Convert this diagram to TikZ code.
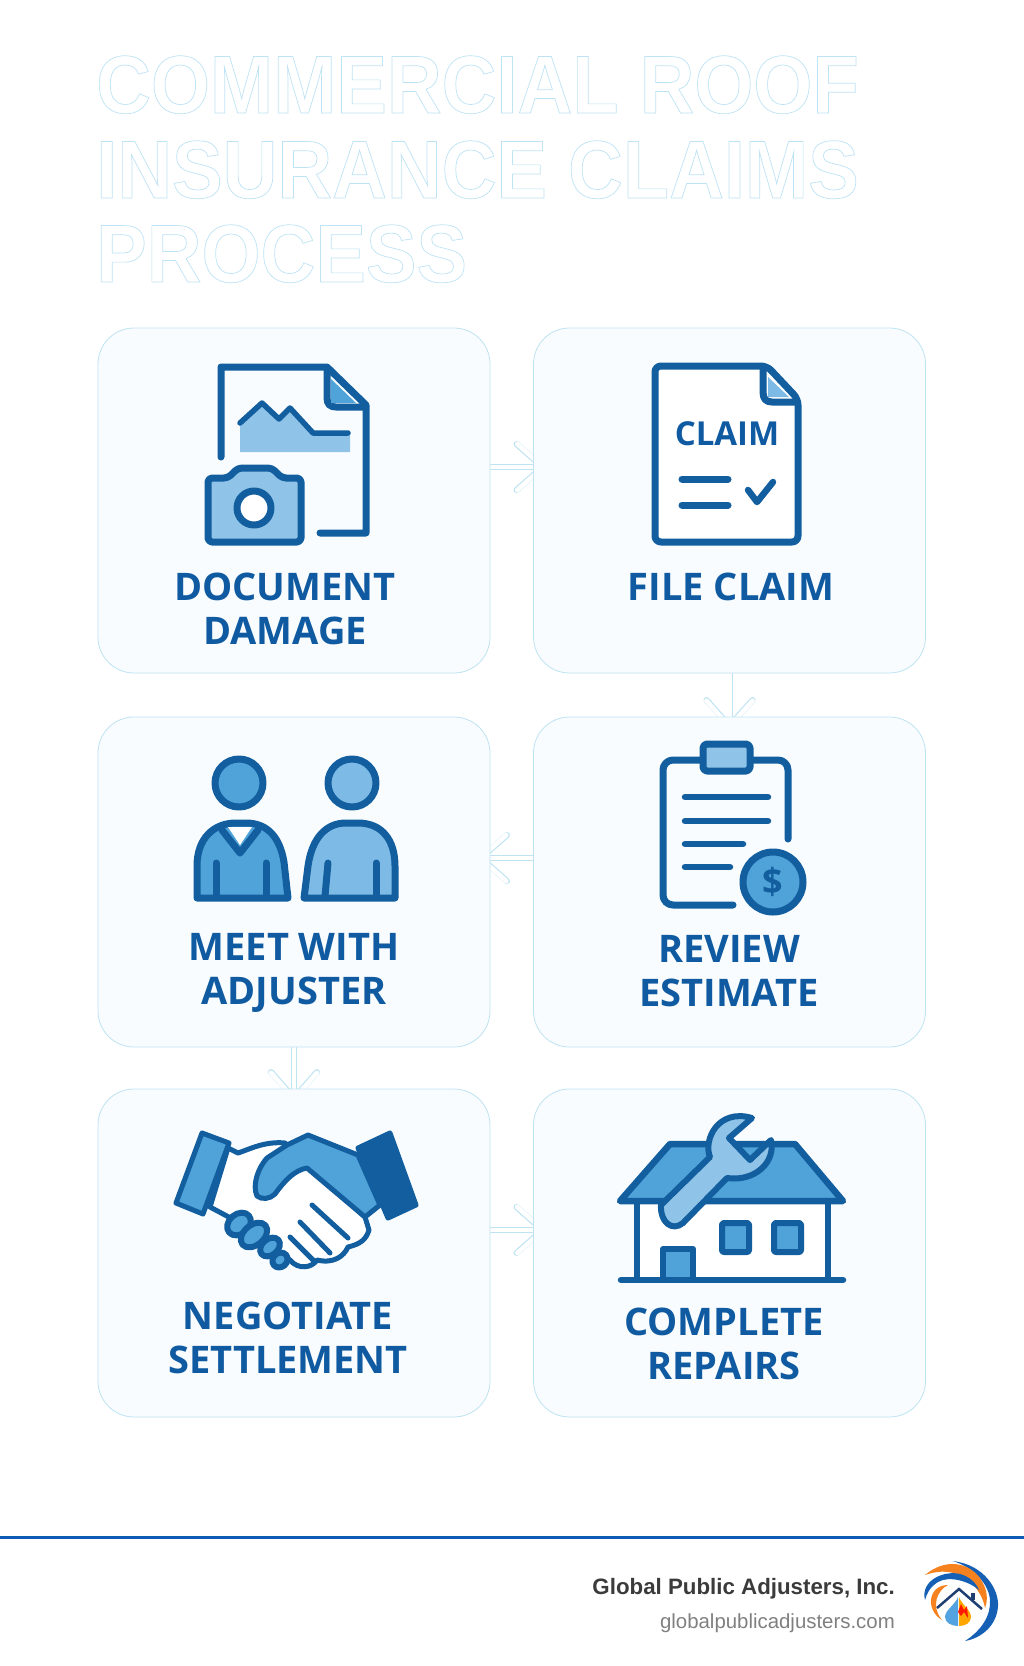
\documentclass[tikz,border=0pt]{standalone}
\usepackage{fontspec}
\usetikzlibrary{arrows.meta,backgrounds}
\setmainfont{Liberation Sans}
\newfontfamily\labelfont{Open Sans}
\newfontfamily\titlefont{Liberation Sans}[FakeStretch=0.925]

\definecolor{iconink}{HTML}{125E9F}
\definecolor{labelink}{HTML}{0F5AA0}
\definecolor{palefill}{HTML}{8FC4E8}
\definecolor{midfill}{HTML}{4FA3D8}
\definecolor{skyfill}{HTML}{7DBBE6}
\definecolor{cardfill}{HTML}{F8FCFE}
\definecolor{cardedge}{HTML}{BEE3F2}
\definecolor{footrule}{HTML}{0E5BB5}
\definecolor{logoblue}{HTML}{1560B5}
\definecolor{logoorange}{HTML}{F5821F}
\definecolor{logonavy}{HTML}{1F3F73}

% outlined title text
\newcommand{\outlineon}{\special{pdf:code 0.74 0.89 0.96 RG 1 1 1 rg 0.7 w 2 Tr}}
\newcommand{\outlineoff}{\special{pdf:code 0 0 0 RG 0 0 0 rg 1 w 0 Tr}}

\begin{document}
\begin{tikzpicture}[
        x=1pt, y=-1pt,
        card/.style={rectangle, draw=cardedge, fill=cardfill, line width=0.8pt, rounded corners=36pt, minimum width=392pt, inner sep=0pt, outer sep=0pt},
        steplabel/.style={font=\labelfont\bfseries\fontsize{38}{44}\selectfont, text=labelink, align=center, inner sep=0pt, anchor=base},
        titleline/.style={font=\titlefont\bfseries\fontsize{82}{82}\selectfont, anchor=base west, inner sep=0pt},
        flowlink/.style={draw=cardedge, line width=6pt, -{Straight Barb[round, length=26pt, width=46pt]}, shorten >=-12pt, postaction={draw=white, line width=4.6pt}},
        ink/.style={draw=iconink, line width=7pt, line join=round, line cap=round},
        thinink/.style={draw=iconink, line width=5pt, line join=round, line cap=round}
    ]
        \useasboundingbox (0,0) rectangle (1024,1666);

        % Title
        \node[titleline] (titleone) at (96,113) {\outlineon COMMERCIAL ROOF\outlineoff};
        \node[titleline] (titletwo) at (96,198) {\outlineon INSURANCE CLAIMS\outlineoff};
        \node[titleline] (titlethree) at (96,282) {\outlineon PROCESS\outlineoff};

        % Cards
        \node[card, minimum height=345pt] (document) at (294,500.5) {};
        \node[card, minimum height=345pt] (file) at (729.5,500.5) {};
        \node[card, minimum height=330pt] (meet) at (294,882) {};
        \node[card, minimum height=330pt] (review) at (729.5,882) {};
        \node[card, minimum height=328pt] (negotiate) at (294,1253) {};
        \node[card, minimum height=328pt] (repairs) at (729.5,1253) {};

        % Arrows
        \begin{scope}[on background layer]
            \draw[flowlink] ([yshift=33.5pt]document.east) -- ([yshift=33.5pt]file.west);
            \draw[flowlink] (file.south) -- (review.north);
            \draw[flowlink] ([yshift=24pt]review.west) -- ([yshift=24pt]meet.east);
            \draw[flowlink] (meet.south) -- (negotiate.north);
            \draw[flowlink] ([yshift=23pt]negotiate.east) -- ([yshift=23pt]repairs.west);
        \end{scope}

        % Document icon
        \draw[ink] (221,457) -- (221,367) -- (327,367) -- (366,405) -- (366,533) -- (320,533);
        \draw[ink, line cap=butt] (327,367) -- (327,398) .. controls (327,404) and (330,407) .. (336,407) -- (366,407);
        \fill[midfill] (331,379) -- (356,403) -- (331,403) -- cycle;
        \fill[palefill] (240,425) -- (262,403) -- (279,419) -- (290,408) -- (313,433) -- (350,433) -- (350,452) -- (240,452) -- cycle;
        \draw[ink, line width=5.5pt] (240,423) -- (262,403) -- (279,419) -- (290,408) -- (313,433) -- (348,433);
        \draw[ink, fill=palefill, rounded corners=4pt] (208,478) -- (228,478) -- (238,468) -- (272,468) -- (282,478) -- (301,478) -- (301,542) -- (208,542) -- cycle;
        \draw[ink, fill=white] (254,508) circle (17);

        \node[steplabel] (documentlabel) at (285,644) {DOCUMENT\\DAMAGE};

        % Claim icon
        \draw[ink, fill=white, rounded corners=6pt] (655,366) -- (767,366) -- (798,399) -- (798,542) -- (655,542) -- cycle;
        \draw[ink, line cap=butt] (763,366) -- (763,392) .. controls (763,399) and (766,402) .. (772,402) -- (798,402);
        \fill[skyfill] (768,377) -- (789,397) -- (768,397) -- cycle;
        \node[font=\labelfont\bfseries\fontsize{33}{33}\selectfont, text=labelink, inner sep=0pt, anchor=base] (claimword) at (727,445) {CLAIM};
        \draw[ink] (682,479) -- (728,479);
        \draw[ink] (682,505) -- (728,505);
        \draw[ink, line width=6.5pt] (748,490) -- (757,502) -- (773,482);

        \node[steplabel] (filelabel) at (731,600) {FILE CLAIM};

        % People icon
        \draw[ink, fill=midfill] (239,783) circle (24);
        \draw[ink, fill=skyfill] (352,783) circle (24);
        \draw[ink, fill=midfill] (197,898) -- (197,866) .. controls (197,838) and (214,823) .. (236,823) -- (246,823) .. controls (268,823) and (280,838) .. (284,862) -- (288,898) -- cycle;
        \fill[white] (228,827) -- (252,827) -- (240,845) -- cycle;
        \draw[ink] (222,830) -- (240,853) -- (258,830);
        \draw[ink] (216,863) -- (216,896);
        \draw[ink] (266,863) -- (266,896);
        \draw[ink, fill=skyfill] (304,898) -- (308,866) .. controls (312,838) and (326,823) .. (346,823) -- (358,823) .. controls (382,823) and (395,840) .. (395,866) -- (395,898) -- cycle;
        \draw[ink] (328,863) -- (325,896);
        \draw[ink] (376,863) -- (376,896);

        \node[steplabel] (meetlabel) at (294,1004) {MEET WITH\\ADJUSTER};

        % Estimate icon
        \draw[ink, rounded corners=10pt] (733,905) -- (663,905) -- (663,760) -- (788,760) -- (788,839);
        \draw[ink, fill=palefill, rounded corners=4pt] (703,744) rectangle (750,771);
        \draw[ink, line width=6.5pt] (685,797) -- (768,797);
        \draw[ink, line width=6.5pt] (685,821) -- (768,821);
        \draw[ink, line width=6.5pt] (685,844) -- (743,844);
        \draw[ink, line width=6.5pt] (685,867) -- (730,867);
        \draw[ink, fill=midfill] (773,882) circle (30);
        \node[font=\labelfont\bfseries\fontsize{36}{36}\selectfont, text=iconink, inner sep=0pt] (coinsign) at (773,882) {\$};

        \node[steplabel] (reviewlabel) at (729,1006) {REVIEW\\ESTIMATE};

        % Handshake icon
        \draw[thinink, fill=white] (228,1148) -- (238,1153) .. controls (250,1149) and (265,1141) .. (285,1143) -- (365,1217) -- (369,1230) .. controls (366,1240) and (360,1244) .. (348,1247) .. controls (344,1256) and (334,1264) .. (317,1260) .. controls (312,1268) and (298,1270) .. (290,1260) -- (240,1223) -- (210,1207) -- cycle;
        \draw[thinink, fill=midfill] (202,1133) -- (229,1143) -- (203,1214) -- (176,1203) -- cycle;
        \draw[thinink, fill=iconink] (358,1148) -- (390,1133) -- (416,1205) -- (388,1218) -- cycle;
        \draw[thinink, fill=midfill] (358,1155) -- (308,1135) -- (287,1145) -- (267,1158) .. controls (258,1168) and (252,1185) .. (257,1196) .. controls (262,1200) and (270,1199) .. (275,1194) .. controls (285,1180) and (295,1170) .. (307,1168) -- (365,1217) -- (380,1205) -- cycle;
        \draw[thinink] (312,1205) -- (348,1238);
        \draw[thinink] (300,1222) -- (330,1253);
        \draw[thinink] (290,1237) -- (313,1260);
        \foreach \kx/\ky/\krx/\kry in {239/1224/13/10, 254/1235/15/10, 270/1247/11/8, 280/1260/8/7}
            \draw[ink, line width=6pt, fill=midfill, rotate around={40:(\kx,\ky)}] (\kx,\ky) ellipse ({\krx} and {\kry});

        \node[steplabel] (negotiatelabel) at (288,1373) {NEGOTIATE\\SETTLEMENT};

        % House icon
        \fill[white] (637,1201) rectangle (828,1280);
        \draw[ink, line width=6pt] (637,1201) -- (637,1280);
        \draw[ink, line width=6pt] (828,1201) -- (828,1280);
        \draw[ink, line width=6.5pt, fill=midfill] (620,1201) -- (670,1144) -- (795,1144) -- (843,1201) -- cycle;
        \draw[ink, line width=6pt, fill=midfill] (663,1280) -- (663,1249) -- (693,1249) -- (693,1280);
        \draw[ink, line width=6pt, fill=midfill, rounded corners=2pt] (722,1223) rectangle (749,1252);
        \draw[ink, line width=6pt, fill=midfill, rounded corners=2pt] (774,1223) rectangle (801,1252);
        \draw[ink, line width=6.5pt] (621,1280) -- (843,1280);
        \draw[ink, line width=6pt, fill=palefill] (661,1205) -- (710,1157) .. controls (703,1140) and (718,1108) .. (752,1118) -- (729,1138) -- (750,1160) -- (771,1140) .. controls (776,1162) and (755,1182) .. (727,1178) -- (683,1223) .. controls (672,1232) and (660,1222) .. (661,1205) -- cycle;

        \node[steplabel] (repairslabel) at (724,1379) {COMPLETE\\REPAIRS};

        % Footer
        \draw[footrule, line width=3pt] (0,1537) -- (1024,1537);
        \node[font=\bfseries\fontsize{22.3}{24}\selectfont, text=black!77, inner sep=0pt, anchor=base east] (brandname) at (895,1594) {Global Public Adjusters, Inc.};
        \node[font=\fontsize{20.4}{22}\selectfont, text=black!50, inner sep=0pt, anchor=base east] (brandsite) at (895,1628) {globalpublicadjusters.com};

        % Logo
        \fill[logoblue] (953,1561) .. controls (985,1565) and (999,1590) .. (998,1606) .. controls (997,1625) and (982,1638) .. (965,1641) .. controls (982,1630) and (991,1615) .. (990,1600) .. controls (989,1585) and (975,1568) .. (953,1561) -- cycle;
        \fill[logoorange] (925,1575) .. controls (945,1558) and (968,1562) .. (980,1578) .. controls (988,1590) and (988,1600) .. (985,1608) .. controls (982,1590) and (962,1562) .. (925,1575) -- cycle;
        \fill[logoblue] (925,1600) .. controls (920,1580) and (945,1570) .. (960,1574) .. controls (968,1576) and (976,1582) .. (979,1590) .. controls (970,1582) and (950,1575) .. (938,1582) .. controls (930,1587) and (927,1593) .. (925,1600) -- cycle;
        \fill[logoorange] (942,1620) .. controls (925,1610) and (928,1585) .. (948,1585) .. controls (938,1590) and (930,1605) .. (942,1620) -- cycle;
        \fill[cyan!70!blue!70] (958,1597) .. controls (955,1605) and (945,1610) .. (945,1617) .. controls (945,1623) and (952,1626) .. (958,1626) -- cycle;
        \fill[orange!70!yellow] (959,1597) .. controls (962,1605) and (971,1610) .. (971,1617) .. controls (971,1623) and (965,1626) .. (959,1626) -- cycle;
        \fill[red!80!orange] (958,1612) -- (961,1604) -- (964,1610) -- (967,1606) -- (968,1618) -- (964,1612) -- (961,1616) -- cycle;
        \fill[logonavy] (971,1593) rectangle (975,1600);
        \draw[logonavy, line width=2.5pt] (937,1608) -- (959,1589) -- (982,1609);
    \end{tikzpicture}
\end{document}
